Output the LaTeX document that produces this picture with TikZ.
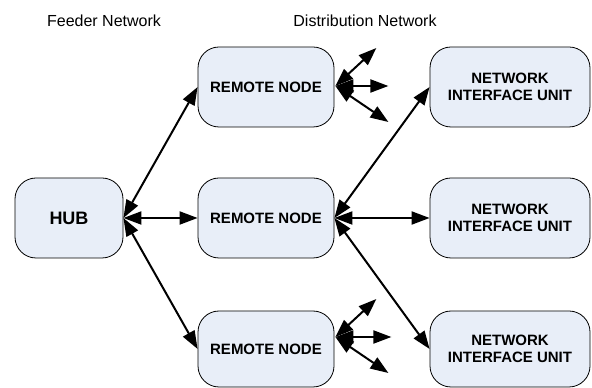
\documentclass[tikz,border=0pt]{standalone}
\usepackage{fontspec}
\setmainfont{Liberation Sans}
\usetikzlibrary{arrows.meta,calc}
\definecolor{boxfill}{RGB}{232,238,248}
\begin{document}
\begin{tikzpicture}[x=1pt,y=1pt,
  box/.style={draw=black,line width=0.8pt,fill=boxfill,rounded corners=21pt,
    minimum height=80pt,inner sep=0pt,align=center,font=\bfseries\fontsize{15}{17}\selectfont},
  link/.style={line width=2pt,{Triangle[length=18pt,width=13pt]}-{Triangle[length=18pt,width=13pt]}},
  title/.style={font=\fontsize{16}{18}\selectfont}]
\useasboundingbox (0,0) rectangle (592,388);
\node[title] (feeder) at (104,367) {Feeder Network};
\node[title] (distr) at (365,367) {Distribution Network};
\node[box,minimum width=108pt,font=\bfseries\fontsize{18}{20}\selectfont] (hub) at (69,170) {HUB};
\node[box,minimum width=136pt] (r1) at (266,301) {REMOTE NODE};
\node[box,minimum width=136pt] (r2) at (266,170) {REMOTE NODE};
\node[box,minimum width=136pt,minimum height=76pt] (r3) at (266,39) {REMOTE NODE};
\node[box,minimum width=160pt] (n1) at (510,301) {NETWORK\\INTERFACE UNIT};
\node[box,minimum width=160pt] (n2) at (510,170) {NETWORK\\INTERFACE UNIT};
\node[box,minimum width=160pt,minimum height=76pt] (n3) at (510,39) {NETWORK\\INTERFACE UNIT};
\draw[link] (hub.east) -- (r1.west);
\draw[link] (hub.east) -- (r2.west);
\draw[link] (hub.east) -- (r3.west);
\draw[link] (r2.east) -- (n1.west);
\draw[link] (r2.east) -- (n2.west);
\draw[link] (r2.east) -- (n3.west);
% stubs
\coordinate (o1) at ($(r1.east)+(1,1)$);
\coordinate (a1) at ($(o1)+(41,38)$);
\coordinate (b1) at ($(o1)+(53,0)$);
\coordinate (c1) at ($(o1)+(53,-36)$);
\coordinate (o3) at ($(r3.east)+(1,12)$);
\coordinate (a3) at ($(o3)+(41,38)$);
\coordinate (b3) at ($(o3)+(56,0)$);
\coordinate (c3) at ($(o3)+(53,-36)$);
\draw[link] (o1) -- (a1);
\draw[link] (o1) -- (b1);
\draw[link] (o1) -- (c1);
\draw[link] (o3) -- (a3);
\draw[link] (o3) -- (b3);
\draw[link] (o3) -- (c3);
\end{tikzpicture}
\end{document}
